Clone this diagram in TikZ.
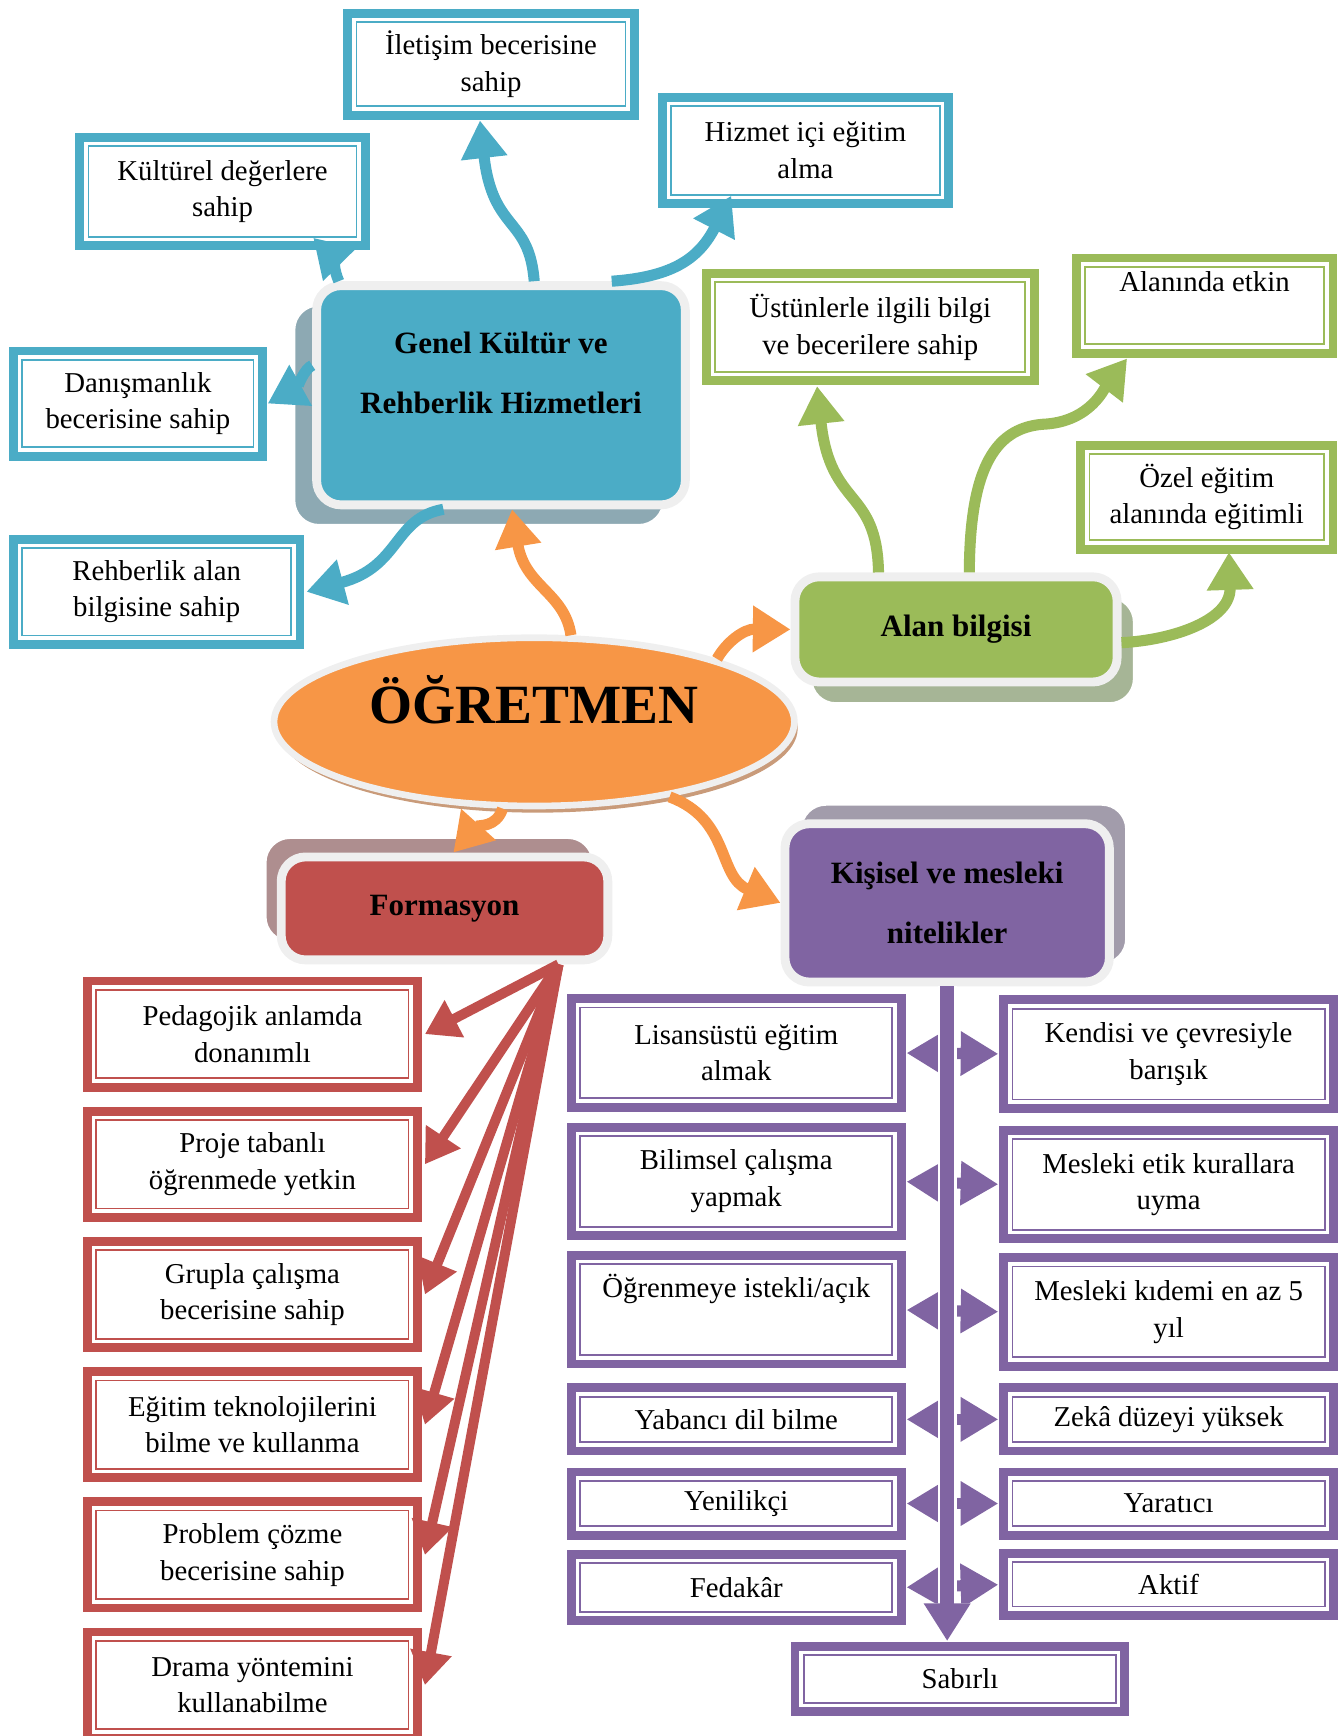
\documentclass[tikz,border=0pt]{standalone}
\usepackage{fontspec}
\setmainfont{Liberation Serif}
\usetikzlibrary{positioning,arrows.meta,shapes.geometric,shadows,calc}

\definecolor{blueC}{HTML}{4BACC6}
\definecolor{greenC}{HTML}{9BBB59}
\definecolor{redC}{HTML}{C0504D}
\definecolor{purpleC}{HTML}{8064A2}
\definecolor{orangeC}{HTML}{F79646}
\definecolor{edgeC}{HTML}{EFEFEF}
\definecolor{blueSh}{HTML}{8DA9B3}
\definecolor{greenSh}{HTML}{A6B596}
\definecolor{redSh}{HTML}{AE8E8F}
\definecolor{purpleSh}{HTML}{A29CAB}
\definecolor{orangeSh}{HTML}{C99B7A}

\begin{document}
\begin{tikzpicture}[x=1pt, y=-1pt, node distance=36pt,
  every node/.style={align=center, inner sep=2pt, font=\fontsize{26}{33}\selectfont},
  dbox/.style={rectangle, fill=white, draw=#1, line width=1.6pt,
    preaction={draw=#1, line width=24pt}, preaction={draw=white, line width=8pt}},
  rbox/.style={dbox=redC, minimum width=282pt, minimum height=80pt},
  pbox/.style={dbox=purpleC, minimum width=282pt},
  hub/.style={rectangle, rounded corners=22pt, draw=edgeC, line width=8pt,
    font=\fontsize{28}{54}\selectfont\bfseries},
  conn/.style={-{Triangle[length=34pt,width=40pt]}, line width=10pt, draw=#1},
  rconn/.style={-{Triangle[length=30pt,width=36pt]}, line width=9pt, draw=redC},
  pconn/.style={{Triangle[length=34pt,width=38pt]}-{Triangle[length=34pt,width=38pt]},
    line width=10pt, draw=purpleC, shorten <=12pt, shorten >=12pt}]
\useasboundingbox (0,0) rectangle (1213,1568);

\node[dbox=blueC, minimum width=243pt, minimum height=76pt] (iletisim) at (443.5,58) {İletişim becerisine\\sahip};
\node[dbox=blueC, minimum width=242pt, minimum height=82pt] (kultur) at (201,173) {Kültürel değerlere\\sahip};
\node[dbox=blueC, minimum width=243pt, minimum height=80pt] (hizmet) at (727.5,136) {Hizmet içi eğitim\\alma};
\node[dbox=blueC, minimum width=209pt, minimum height=79pt] (danisma) at (124.5,364.5) {Danışmanlık\\becerisine sahip};
\node[dbox=blueC, minimum width=243pt, minimum height=79pt] (rehber) at (141.5,534.5) {Rehberlik alan\\bilgisine sahip};

\node[dbox=greenC, minimum width=280pt, minimum height=81pt] (ustun) at (786,295.5) {Üstünlerle ilgili bilgi\\ve becerilere sahip};
\node[dbox=greenC, minimum width=216pt, minimum height=70pt] (etkin) at (1088,276) {Alanında etkin\\\strut};
\node[dbox=greenC, minimum width=212pt, minimum height=78pt] (ozel) at (1090,449) {Özel eğitim\\alanında eğitimli};

\node[hub, fill=blueC, minimum width=333pt, minimum height=198pt, text depth=40pt,
  general shadow={fill=blueSh, draw=white, line width=1.5pt, shadow xshift=-20pt, shadow yshift=-18pt}]
  (gk) at (452.5,357) {Genel Kültür ve\\Rehberlik Hizmetleri};
\node[hub, fill=greenC, minimum width=291pt, minimum height=95pt,
  general shadow={fill=greenSh, draw=white, line width=1.5pt, shadow xshift=15pt, shadow yshift=-19pt}]
  (alan) at (863.5,568.5) {Alan bilgisi};
\node[hub, fill=redC, minimum width=295pt, minimum height=93pt,
  general shadow={fill=redSh, draw=white, line width=1.5pt, shadow xshift=-14pt, shadow yshift=17pt}]
  (form) at (401.5,820.5) {Formasyon};
\node[hub, fill=purpleC, minimum width=293pt, minimum height=143pt,
  general shadow={fill=purpleSh, draw=white, line width=1.5pt, shadow xshift=15pt, shadow yshift=17pt}]
  (kisisel) at (855.5,815.5) {Kişisel ve mesleki\\nitelikler};

\node[ellipse, minimum width=470pt, minimum height=152pt, fill=orangeC, draw=edgeC, line width=6pt,
  general shadow={fill=orangeSh, shadow xshift=3pt, shadow yshift=-6pt},
  font=\fontsize{50}{60}\selectfont\bfseries, text depth=40pt] (ogretmen) at (482.5,652) {ÖĞRETMEN};

\node[rbox] (ped) at (228,934) {Pedagojik anlamda\\donanımlı};
\node[rbox] (proje) [below=of ped] {Proje tabanlı\\öğrenmede yetkin};
\node[rbox] (grup) [below=of proje] {Grupla çalışma\\becerisine sahip};
\node[rbox] (tekno) [below=of grup] {Eğitim teknolojilerini\\bilme ve kullanma};
\node[rbox] (prob) [below=of tekno] {Problem çözme\\becerisine sahip};
\node[rbox] (drama) [below=of prob] {Drama yöntemini\\kullanabilme};

\node[pbox, minimum height=82pt] (lis) at (665,951) {Lisansüstü eğitim\\almak};
\node[pbox, minimum height=82pt] (bilim) at (665,1067) {Bilimsel çalışma\\yapmak};
\node[pbox, minimum height=82pt] (ogren) at (665,1183) {Öğrenmeye istekli/açık\\\strut};
\node[pbox, minimum height=41pt] (yabanci) at (665,1282) {Yabancı dil bilme};
\node[pbox, minimum height=41pt] (yenilik) at (665,1358) {Yenilikçi};
\node[pbox, minimum height=44pt] (fedakar) at (665,1434) {Fedakâr};
\node[pbox, minimum height=82pt] (kendisi) at (1055.5,952) {Kendisi ve çevresiyle\\barışık};
\node[pbox, minimum height=82pt] (etik) at (1055.5,1070) {Mesleki etik kurallara\\uyma};
\node[pbox, minimum height=82pt] (kidem) at (1055.5,1185) {Mesleki kıdemi en az 5\\yıl};
\node[pbox, minimum height=41pt] (zeka) at (1055.5,1282) {Zekâ düzeyi yüksek};
\node[pbox, minimum height=41pt] (yaratici) at (1055.5,1358) {Yaratıcı};
\node[pbox, minimum height=40pt] (aktif) at (1055.5,1431) {Aktif};
\node[pbox, minimum height=43pt] (sabir) at (867,1516.5) {Sabırlı};

\draw[conn=orangeC] (ogretmen.67) .. controls (510,535) and (474,530) .. ([xshift=10pt]gk.south);
\draw[conn=orangeC] (ogretmen.19) .. controls (656,580) and (672,568) .. (alan.west);
\draw[conn=orangeC] (ogretmen.250) .. controls (448,748) and (432,745) .. ([xshift=8pt]form.north);
\draw[conn=orangeC] (ogretmen.331) .. controls (660,740) and (648,792) .. (kisisel.west);

\draw[conn=blueC] ([xshift=24pt]gk.north west) .. controls (302,245) and (300,232) .. ([xshift=82pt]kultur.south);
\draw[conn=blueC] ([xshift=30pt]gk.north) .. controls (478,195) and (445,210) .. ([xshift=-10pt,yshift=-12pt]iletisim.south);
\draw[conn=blueC] ([xshift=100pt]gk.north) .. controls (610,250) and (632,232) .. ([xshift=-67pt]hizmet.south);
\draw[conn=blueC] ([yshift=27pt]gk.west) .. controls (275,333) and (268,350) .. ([xshift=12pt]danisma.east);
\draw[conn=blueC] ([xshift=-52pt]gk.south) .. controls (355,468) and (362,512) .. ([xshift=13pt]rehber.east);

\draw[conn=greenC] ([xshift=-70pt]alan.north) .. controls (792,440) and (750,460) .. ([xshift=-48pt,yshift=-12pt]ustun.south);
\draw[conn=greenC] ([xshift=12pt]alan.north) .. controls (876,420) and (900,385) .. (945,383)
  .. controls (985,380) and (998,350) .. ([xshift=-70pt,yshift=-12pt]etkin.south);
\draw[conn=greenC] ([yshift=-12pt]alan.east) .. controls (1060,578) and (1112,560) .. ([xshift=20pt,yshift=-10pt]ozel.south);

\foreach \n in {ped,proje,grup,tekno,prob,drama}{\draw[rconn] ([xshift=103pt]form.south) -- ([xshift=14pt]\n.east);}

\foreach \l/\r in {lis/kendisi,bilim/etik,ogren/kidem,yabanci/zeka,yenilik/yaratici,fedakar/aktif}{\draw[pconn] (\l.east) -- (\r.west);}
\coordinate (ptip) at ($(kisisel.south |- sabir.north)+(0,-12)$);
\draw[conn=purpleC, line width=13pt, preaction={draw=white, line width=17pt}] (kisisel.south) -- (ptip);
\end{tikzpicture}
\end{document}
